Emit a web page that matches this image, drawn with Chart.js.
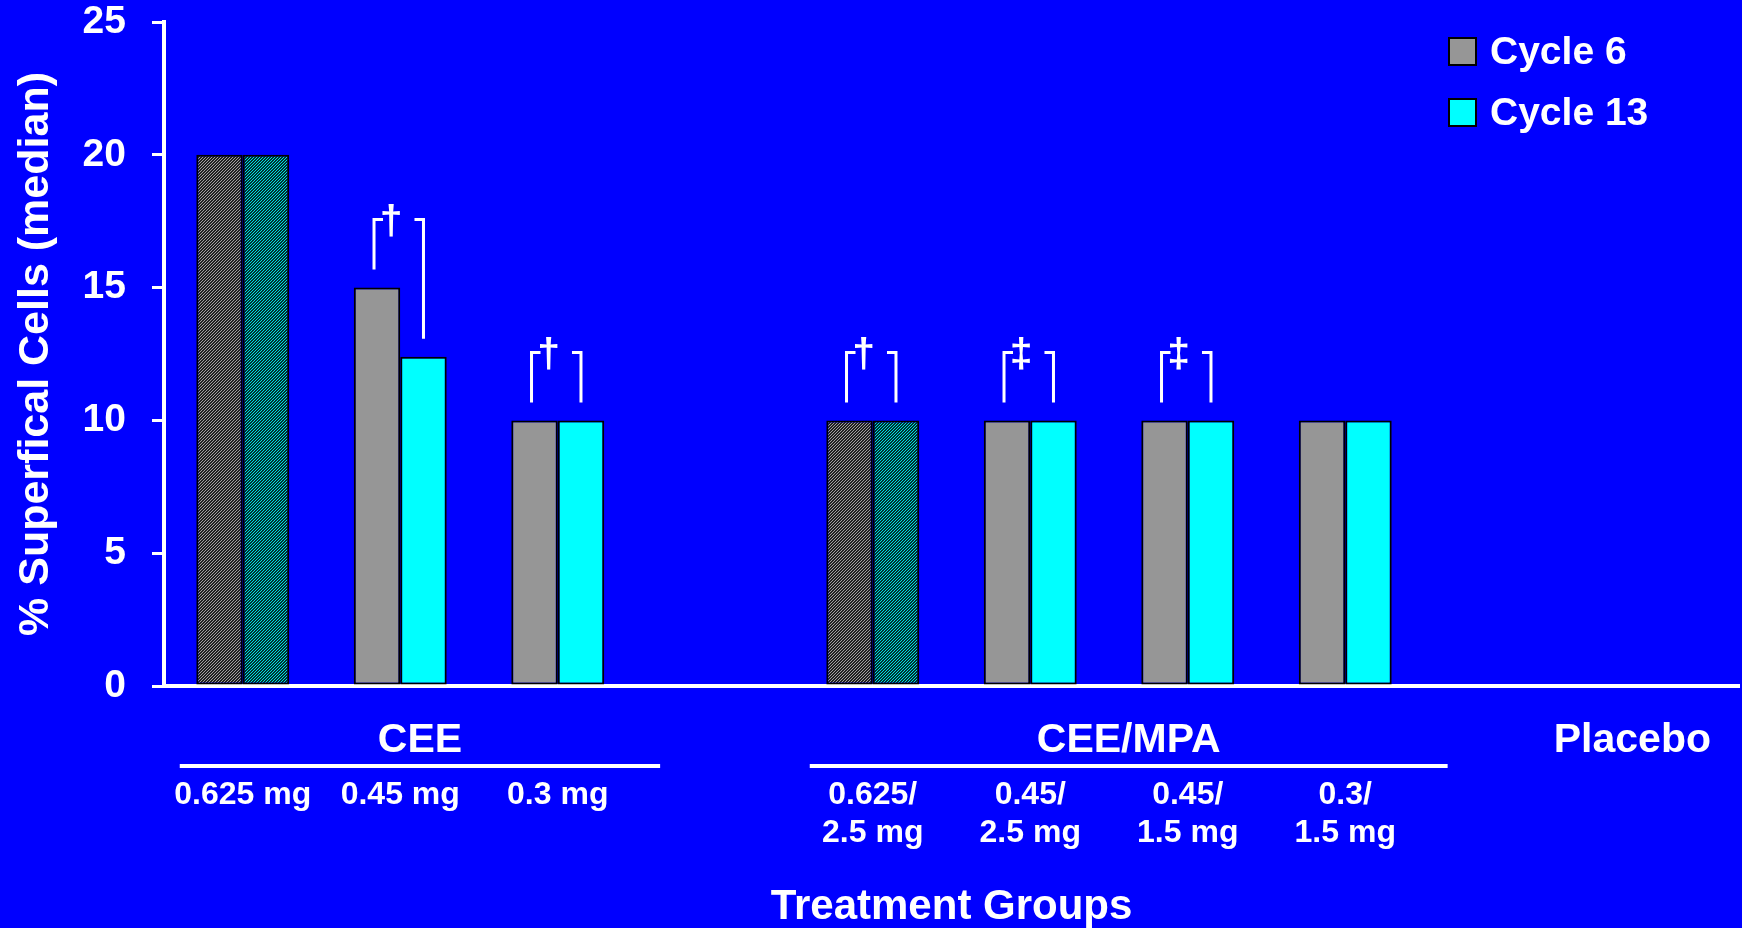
<!DOCTYPE html>
<html>
<head>
<meta charset="utf-8">
<script src="https://cdn.jsdelivr.net/npm/chart.js@4.4.0/dist/chart.umd.min.js"></script>
<style>
  html, body { margin: 0; padding: 0; background: #0000ff; }
  canvas { display: block; }
</style>
</head>
<body>
<canvas id="chart" width="1742" height="928"></canvas>
<script>
// values
const categories = ['0.625 mg', '0.45 mg', '0.3 mg', '', ['0.625/', '2.5 mg'], ['0.45/', '2.5 mg'], ['0.45/', '1.5 mg'], ['0.3/', '1.5 mg'], '', ''];
const cycle6 = [20, 15, 10, null, 10, 10, 10, 10, null, null];
const cycle13 = [20, 12.4, 10, null, 10, 10, 10, 10, null, null];
const sigMarks = ['', '†', '†', '', '†', '‡', '‡', '', '', ''];
const groupNames = ['CEE', 'CEE/MPA', 'Placebo'];
const groupFirst = [0, 4, 9];
const groupLast = [2, 7, 9];
const groupRule = [true, true, false];
const yTicks = [0, 5, 10, 15, 20, 25];

const FONT = "'Liberation Sans', Arial, sans-serif";
const GRAY = '#969696';
const CYAN = '#00ffff';
const hatchedCats = [0, 4]; // first bar of each group is drawn hatched

function makeHatch(dark, light) {
    const c = document.createElement('canvas');
    c.width = 3; c.height = 3;
    const g = c.getContext('2d');
    g.fillStyle = dark;
    g.fillRect(0, 0, 3, 3);
    g.fillStyle = light;
    for (let i = 0; i < 3; i++) g.fillRect(i, 2 - i, 1, 1);
    return g.createPattern(c, 'repeat');
}

function fills(base, hatch) {
    return categories.map((_, i) => hatchedCats.includes(i) ? hatch : base);
}

const grayHatch = makeHatch('#202020', '#a0a0a0');
const cyanHatch = makeHatch('#003030', '#00e0e0');

const overlay = {
    id: 'overlay',
    afterDraw(chart) {
        const { ctx, chartArea, scales: { x } } = chart;
        const m0 = chart.getDatasetMeta(0);
        const m1 = chart.getDatasetMeta(1);
        ctx.save();
        ctx.strokeStyle = '#fff';
        ctx.fillStyle = '#fff';

        // significance brackets
        sigMarks.forEach((mark, i) => {
            if (!mark) return;
            const b0 = m0.data[i], b1 = m1.data[i];
            const topY = Math.min(b0.y, b1.y) - 68;
            const x0 = b0.x - 3, x1 = b1.x;
            ctx.lineWidth = 3;
            ctx.beginPath();
            ctx.moveTo(x0, b0.y - 18); ctx.lineTo(x0, topY); ctx.lineTo(x0 + 9, topY);
            ctx.moveTo(x1 - 9, topY); ctx.lineTo(x1, topY); ctx.lineTo(x1, b1.y - 18);
            ctx.stroke();
            ctx.font = 'bold 41px ' + FONT;
            ctx.textAlign = 'center';
            ctx.textBaseline = 'middle';
            ctx.fillText(mark, x.getPixelForValue(i) - 9, topY + 3);
        });

        // treatment group headings, centred on their rule
        const cat = x.getPixelForValue(1) - x.getPixelForValue(0);
        groupNames.forEach((name, g) => {
            ctx.fillStyle = '#fff';
            ctx.font = 'bold 41px ' + FONT;
            ctx.textAlign = 'center';
            ctx.textBaseline = 'alphabetic';
            let cx;
            if (groupRule[g]) {
                const left = x.getPixelForValue(groupFirst[g]) - 0.4 * cat;
                const right = x.getPixelForValue(groupLast[g]) + 0.65 * cat;
                ctx.fillRect(left, chartArea.bottom + 78, right - left, 4);
                cx = (left + right) / 2;
            } else {
                const w = ctx.measureText(name).width;
                cx = Math.min(x.getPixelForValue(groupFirst[g]), chartArea.right - 28 - w / 2);
            }
            ctx.fillText(name, cx, chartArea.bottom + 66);
        });

        // legend
        const lx = chartArea.right - 290;
        const ly = chartArea.top + 16;
        chart.data.datasets.forEach((ds, i) => {
            const y0 = ly + i * 61;
            ctx.fillStyle = ds.legendColor;
            ctx.fillRect(lx, y0, 27, 27);
            ctx.lineWidth = 2;
            ctx.strokeStyle = '#000';
            ctx.strokeRect(lx, y0, 27, 27);
            ctx.fillStyle = '#fff';
            ctx.font = 'bold 39px ' + FONT;
            ctx.textAlign = 'left';
            ctx.textBaseline = 'middle';
            ctx.fillText(ds.label, lx + 41, y0 + 15);
        });
        ctx.restore();
    }
};

new Chart(document.getElementById('chart'), {
    type: 'bar',
    data: {
        labels: categories,
        datasets: [
            { label: 'Cycle 6', data: cycle6, backgroundColor: fills(GRAY, grayHatch), legendColor: GRAY,
              borderColor: '#000', borderWidth: 2, borderSkipped: false },
            { label: 'Cycle 13', data: cycle13, backgroundColor: fills(CYAN, cyanHatch), legendColor: CYAN,
              borderColor: '#000', borderWidth: 2, borderSkipped: false }
        ]
    },
    options: {
        responsive: false,
        devicePixelRatio: 1,
        animation: false,
        layout: { padding: { top: 22, right: 3, left: 0, bottom: 0 } },
        datasets: { bar: { categoryPercentage: 0.59, barPercentage: 1 } },
        plugins: { legend: { display: false }, tooltip: { enabled: false } },
        scales: {
            x: {
                grid: { display: false, drawTicks: false },
                border: { display: true, color: '#fff', width: 4 },
                ticks: {
                    color: '#fff', autoSkip: false, maxRotation: 0, padding: 90,
                    font: { family: FONT, size: 32, weight: 'bold', lineHeight: 1.2 }
                },
                title: {
                    display: true, text: 'Treatment Groups', color: '#fff',
                    font: { family: FONT, size: 42, weight: 'bold', lineHeight: 1 },
                    padding: { top: 0, bottom: 0 }
                },
                afterFit(s) {
                    s.height = 242;
                    s.paddingLeft = 0;
                    s.paddingRight = 0;
                }
            },
            y: {
                min: 0, max: 25,
                afterBuildTicks(s) { s.ticks = yTicks.map(v => ({ value: v })); },
                grid: { display: true, drawOnChartArea: false, drawTicks: true, tickLength: 12, color: '#fff', lineWidth: 3 },
                border: { display: true, color: '#fff', width: 4 },
                ticks: {
                    color: '#fff', padding: 26,
                    font: { family: FONT, size: 39, weight: 'bold', lineHeight: 1 }
                },
                title: {
                    display: true, text: '% Superfical Cells (median)', color: '#fff',
                    font: { family: FONT, size: 43, weight: 'bold', lineHeight: 1 },
                    padding: { top: 15, bottom: 0 }
                },
                afterFit(s) {
                    s.width = 164;
                    s.paddingTop = 0;
                    s.paddingBottom = 0;
                }
            }
        }
    },
    plugins: [overlay]
});
</script>
</body>
</html>
